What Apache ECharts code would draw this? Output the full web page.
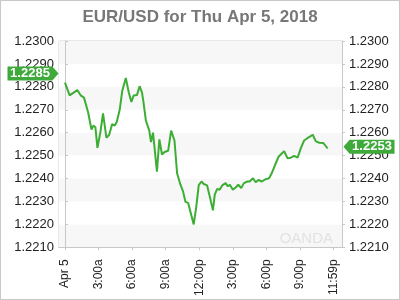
<!DOCTYPE html>
<html>
<head>
<meta charset="utf-8">
<script src="https://cdn.jsdelivr.net/npm/echarts@6/dist/echarts.min.js"></script>
<style>
html,body{margin:0;padding:0;background:#fff;}
#c{width:400px;height:300px;box-sizing:border-box;border:1px solid #c8c8c8;}
</style>
</head>
<body>
<div id="c"></div>
<script>
// minutes since midnight, Apr 5 2018
var times = [0,25,66,84,102,124,142,152,163,174,190,204,222,237,253,267,278,294,307,326,342,356,368,386,400,413,421,434,452,461,472,481,493,506,520,534,553,569,587,601,619,633,646,660,690,703,717,732,744,762,780,793,803,816,829,843,861,873,884,900,915,929,945,959,978,990,1008,1022,1037,1055,1076,1094,1108,1126,1145,1162,1175,1193,1211,1228,1247,1265,1282,1301,1315,1328,1345,1363,1385,1395,1408];
var rates = [1.22818,1.22763,1.22786,1.22763,1.22753,1.22689,1.22614,1.22631,1.22624,1.22534,1.22603,1.22684,1.22578,1.22591,1.22638,1.22631,1.22648,1.22703,1.22782,1.22839,1.22775,1.22734,1.22762,1.22764,1.22803,1.22775,1.22732,1.22652,1.22609,1.22559,1.22600,1.22603,1.22430,1.22571,1.22505,1.22516,1.22521,1.22609,1.22566,1.22423,1.22373,1.22344,1.22298,1.22294,1.22200,1.22272,1.22371,1.22387,1.22376,1.22370,1.22308,1.22261,1.22330,1.22355,1.22351,1.22370,1.22380,1.22366,1.22373,1.22351,1.22361,1.22373,1.22358,1.22380,1.22387,1.22387,1.22401,1.22384,1.22394,1.22387,1.22397,1.22401,1.22423,1.22459,1.22495,1.22509,1.22519,1.22488,1.22491,1.22499,1.22491,1.22534,1.22566,1.22577,1.22584,1.22591,1.22562,1.22556,1.22555,1.22548,1.22531];
var tickMinutes = [0,180,360,540,720,900,1080,1260,1439];
var tickLabels = ['Apr 5','3:00a','6:00a','9:00a','12:00p','3:00p','6:00p','9:00p','11:59p'];
var openRate = 1.2285;
var lastRate = 1.2253;
var titleText = 'EUR/USD for Thu Apr 5, 2018';

var chart = echarts.init(document.getElementById('c'), null, {renderer:'canvas'});
var pts = times.map(function(t,i){return [t, rates[i]];});
var font = 'Liberation Sans, Arial, sans-serif';
var green = '#3cae34';
var tagGreen = '#3eaa3a';
var option = {
  animation:false,
  title:{text:titleText,left:'center',top:3,textStyle:{fontFamily:font,fontSize:17,fontWeight:'bold',color:'#777'}},
  grid:{left:58,right:57,top:40,bottom:49,show:true,borderColor:'#d0d0d0',borderWidth:1},
  xAxis:{type:'value',min:-32,max:1485,
    axisLine:{show:true,lineStyle:{color:'#c8c8c8'}},
    axisTick:{show:true,length:3,lineStyle:{color:'#c8c8c8'},customValues:tickMinutes},
    axisLabel:{rotate:90,fontFamily:font,fontSize:12,color:'#222',margin:12,customValues:tickMinutes,
      formatter:function(v){var i=tickMinutes.indexOf(v);return i>=0?tickLabels[i]:'';}},
    splitLine:{show:false}},
  yAxis:[
    {type:'value',min:1.221,max:1.23,interval:0.001,position:'left',
     axisLine:{show:true,lineStyle:{color:'#c8c8c8'}},
     axisTick:{show:true,inside:true,length:3,lineStyle:{color:'#c8c8c8'}},
     axisLabel:{fontFamily:font,fontSize:13,color:'#222',margin:5,formatter:function(v){return v.toFixed(4);}},
     splitLine:{show:false},
     splitArea:{show:true,areaStyle:{color:['#f7f7f7','#ffffff']}}},
    {type:'value',min:1.221,max:1.23,interval:0.001,position:'right',
     axisLine:{show:true,lineStyle:{color:'#c8c8c8'}},
     axisTick:{show:true,inside:false,length:3,lineStyle:{color:'#c8c8c8'}},
     axisLabel:{fontFamily:font,fontSize:13,color:'#222',margin:7,formatter:function(v){return v.toFixed(4);}},
     splitLine:{show:false}}
  ],
  graphic:[{type:'text',right:66,bottom:53,z:1,style:{text:'OANDA',fontFamily:font,fontSize:15,fill:'#e2e2e2'}}],
  series:[{
    type:'line',data:pts,showSymbol:false,clip:false,
    lineStyle:{color:green,width:2},
    itemStyle:{color:green},
    z:3,
    markPoint:{
      symbolKeepAspect:false,
      data:[
        {coord:[-32,openRate],symbol:'path://M0,0 L44,0 L50,7 L44,14 L0,14 Z',symbolSize:[51,14],symbolOffset:[-26,-2],
         itemStyle:{color:tagGreen},
         label:{show:true,formatter:openRate.toFixed(4),color:'#fff',fontFamily:font,fontSize:13,fontWeight:'bold',offset:[-3,0]}},
        {coord:[1485,lastRate],symbol:'path://M0,7 L6,0 L50,0 L50,14 L6,14 Z',symbolSize:[51,14],symbolOffset:[27,-2],
         itemStyle:{color:tagGreen},
         label:{show:true,formatter:lastRate.toFixed(4),color:'#fff',fontFamily:font,fontSize:13,fontWeight:'bold',offset:[3,0]}}
      ]
    }
  }]
};
chart.setOption(option);
</script>
</body>
</html>
